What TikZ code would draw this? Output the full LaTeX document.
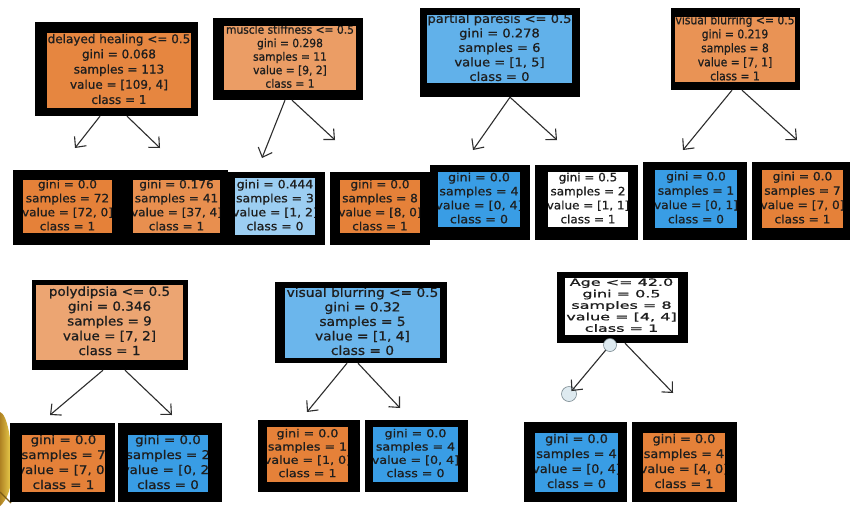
\documentclass[tikz,border=0pt]{standalone}
\usepackage{fontspec}
\usepackage{graphicx}
\setmainfont{DejaVu Sans}
\newfontfamily\plotfont[FakeBold=0.8]{DejaVu Sans}
\usetikzlibrary{arrows.meta,fit,calc}

% class colours of the decision-tree plots
\definecolor{orafull}{RGB}{229,129,57}
\definecolor{oraA}{RGB}{230,134,64}   % [109, 4]
\definecolor{oraB}{RGB}{232,143,79}   % [37, 4]
\definecolor{oraC}{RGB}{235,157,101}  % [9, 2]
\definecolor{oraD}{RGB}{233,147,85}   % [7, 1]
\definecolor{oraE}{RGB}{236,165,114}  % [7, 2]
\definecolor{bluefull}{RGB}{57,157,229}
\definecolor{blueB}{RGB}{156,206,242} % [1, 2]
\definecolor{blueC}{RGB}{97,177,234}  % [1, 5]
\definecolor{blueD}{RGB}{107,182,236} % [1, 4]
\definecolor{inkcol}{RGB}{30,30,30}
\definecolor{arrowcol}{RGB}{45,45,45}
\definecolor{knobfill}{RGB}{222,234,240}
\definecolor{knobline}{RGB}{120,135,142}
\definecolor{goldA}{RGB}{175,130,35}
\definecolor{goldB}{RGB}{240,212,80}

\tikzset{
  framebox/.style={fill=black, draw=none, inner sep=0pt},
  labeltext/.style={inner sep=0pt, text=inkcol},
  arr/.style={draw=arrowcol, line width=1.1pt, -{Straight Barb[length=8pt,width=15pt]}},
  knob/.style={circle, fill=knobfill, draw=knobline, line width=0.6pt, inner sep=0pt},
}

% #1 name, #2/#3 frame corners, #4/#5 fill corners, #6 fill colour,
% #7 {size}{skip}, #8 horizontal stretch, #9 lines
\newcommand\treebox[9]{%
  \path #2 coordinate (#1-nw) #3 coordinate (#1-se);
  \node[framebox, fit=(#1-nw)(#1-se)] (#1) {};
  \begin{scope}
    \clip #4 rectangle #5;
    \fill[#6] #4 rectangle #5;
    \node[labeltext, font=\plotfont\fontsize#7\selectfont] (#1-txt) at ($#4!0.5!#5$)
      {\scalebox{#8}[1]{\begin{tabular}{@{}c@{}}#9\end{tabular}}};
  \end{scope}}

\begin{document}
\begin{tikzpicture}[x=1pt,y=-1pt]
\fill[white] (0,0) rectangle (850,509);
\useasboundingbox (0,0) rectangle (850,509);

% gold ornament at the left edge
\shade[left color=goldA, right color=goldB]
  (0,412) .. controls (7,414) and (12,440) .. (12,468)
  .. controls (12,488) and (7,500) .. (0,506) -- cycle;
\draw[goldA!70!black, line width=1.2pt] (0,492) -- (11,503);

% tree 1
\treebox{t1}{(35,22)}{(198,116)}{(47,33)}{(191,108)}{oraA}{{12}{15.2}}{1}
  {delayed healing <= 0.5\\gini = 0.068\\samples = 113\\value = [109, 4]\\class = 1}
\treebox{t1l}{(13,170)}{(122,245)}{(23,180)}{(112,233)}{orafull}{{11.5}{14}}{1.05}
  {gini = 0.0\\samples = 72\\value = [72, 0]\\class = 1}
\treebox{t1r}{(122,170)}{(228,245)}{(133,180)}{(220,233)}{oraB}{{11.5}{14}}{1.05}
  {gini = 0.176\\samples = 41\\value = [37, 4]\\class = 1}

% tree 2
\treebox{t2}{(213,18)}{(363,100)}{(224,26)}{(356,90)}{oraC}{{11.5}{13.5}}{0.93}
  {muscle stiffness <= 0.5\\gini = 0.298\\samples = 11\\value = [9, 2]\\class = 1}
\treebox{t2l}{(228,172)}{(325,245)}{(235,178)}{(315,235)}{blueB}{{11.5}{14}}{1.08}
  {gini = 0.444\\samples = 3\\value = [1, 2]\\class = 0}
\treebox{t2r}{(330,172)}{(430,245)}{(340,180)}{(420,233)}{orafull}{{11.5}{14}}{1.05}
  {gini = 0.0\\samples = 8\\value = [8, 0]\\class = 1}

% tree 3
\treebox{t3}{(420,8)}{(580,97)}{(427,15)}{(572,83)}{blueC}{{12}{14.5}}{1.09}
  {partial paresis <= 0.5\\gini = 0.278\\samples = 6\\value = [1, 5]\\class = 0}
\treebox{t3l}{(430,165)}{(530,240)}{(438,172)}{(520,227)}{bluefull}{{11.5}{14}}{1.1}
  {gini = 0.0\\samples = 4\\value = [0, 4]\\class = 0}
\treebox{t3r}{(535,165)}{(638,240)}{(548,172)}{(628,227)}{white}{{11.5}{14}}{1.04}
  {gini = 0.5\\samples = 2\\value = [1, 1]\\class = 1}

% tree 4
\treebox{t4}{(671,8)}{(800,90)}{(675,17)}{(795,82)}{oraD}{{12}{14}}{0.9}
  {visual blurring <= 0.5\\gini = 0.219\\samples = 8\\value = [7, 1]\\class = 1}
\treebox{t4l}{(643,162)}{(747,240)}{(655,170)}{(737,228)}{bluefull}{{11.5}{14.3}}{1.06}
  {gini = 0.0\\samples = 1\\value = [0, 1]\\class = 0}
\treebox{t4r}{(752,162)}{(850,240)}{(762,170)}{(843,228)}{orafull}{{11.5}{14.3}}{1.06}
  {gini = 0.0\\samples = 7\\value = [7, 0]\\class = 1}

% tree 5
\treebox{t5}{(32,280)}{(188,370)}{(36,285)}{(183,360)}{oraE}{{12.5}{14.8}}{1.08}
  {polydipsia <= 0.5\\gini = 0.346\\samples = 9\\value = [7, 2]\\class = 1}
\treebox{t5l}{(10,423)}{(115,502)}{(22,435)}{(105,492)}{orafull}{{12}{15}}{1.12}
  {gini = 0.0\\samples = 7\\value = [7, 0]\\class = 1}
\treebox{t5r}{(118,423)}{(222,502)}{(128,435)}{(208,492)}{bluefull}{{12}{15}}{1.12}
  {gini = 0.0\\samples = 2\\value = [0, 2]\\class = 0}

% tree 6
\treebox{t6}{(275,282)}{(447,363)}{(285,288)}{(440,358)}{blueD}{{12.5}{14.5}}{1.1}
  {visual blurring <= 0.5\\gini = 0.32\\samples = 5\\value = [1, 4]\\class = 0}
\treebox{t6l}{(258,420)}{(360,492)}{(267,427)}{(348,482)}{orafull}{{11}{13.3}}{1.15}
  {gini = 0.0\\samples = 1\\value = [1, 0]\\class = 1}
\treebox{t6r}{(365,420)}{(468,492)}{(373,427)}{(458,482)}{bluefull}{{11}{13.3}}{1.15}
  {gini = 0.0\\samples = 4\\value = [0, 4]\\class = 0}

% tree 7
\treebox{t7}{(557,272)}{(688,343)}{(565,278)}{(678,335)}{white}{{10}{11.5}}{1.6}
  {Age <= 42.0\\gini = 0.5\\samples = 8\\value = [4, 4]\\class = 1}
\treebox{t7l}{(524,422)}{(627,502)}{(535,433)}{(618,492)}{bluefull}{{12}{15}}{1.07}
  {gini = 0.0\\samples = 4\\value = [0, 4]\\class = 0}
\treebox{t7r}{(632,422)}{(737,502)}{(643,433)}{(725,492)}{orafull}{{12}{15}}{1.07}
  {gini = 0.0\\samples = 4\\value = [4, 0]\\class = 1}

% arrow ends
\coordinate (t1a) at (75,148);   \coordinate (t1b) at (160,148);
\coordinate (t2a) at (262,158);  \coordinate (t2b) at (335,140);
\coordinate (t3a) at (473,150);  \coordinate (t3b) at (557,140);
\coordinate (t4a) at (683,150);  \coordinate (t4b) at (797,140);
\coordinate (t5a) at (50,415);   \coordinate (t5b) at (172,415);
\coordinate (t6a) at (307,412);  \coordinate (t6b) at (400,408);
\coordinate (t7b) at (673,393);

\draw[arr] ([xshift=-16.5pt]t1.south) -- (t1a);
\draw[arr] ([xshift=10.5pt]t1.south) -- (t1b);
\draw[arr] ([xshift=-3pt]t2.south) -- (t2a);
\draw[arr] ([xshift=4pt]t2.south) -- (t2b);
\draw[arr] ([xshift=10pt]t3.south) -- (t3a);
\draw[arr] ([xshift=10pt]t3.south) -- (t3b);
\draw[arr] ([xshift=-3.5pt]t4.south) -- (t4a);
\draw[arr] ([xshift=6.5pt]t4.south) -- (t4b);
\draw[arr] ([xshift=-7pt]t5.south) -- (t5a);
\draw[arr] ([xshift=15pt]t5.south) -- (t5b);
\draw[arr] ([xshift=-14pt]t6.south) -- (t6a);
\draw[arr] ([xshift=-3pt]t6.south) -- (t6b);

% hover knobs of the last tree
\node[knob, minimum size=13pt] (k1) at (610,345) {};
\node[knob, minimum size=15pt] (k2) at (569,394) {};
\draw[arr, shorten >=-4pt] (k1) -- (k2);
\draw[arr] ([xshift=2.5pt]t7.south) -- (t7b);
\end{tikzpicture}
\end{document}
